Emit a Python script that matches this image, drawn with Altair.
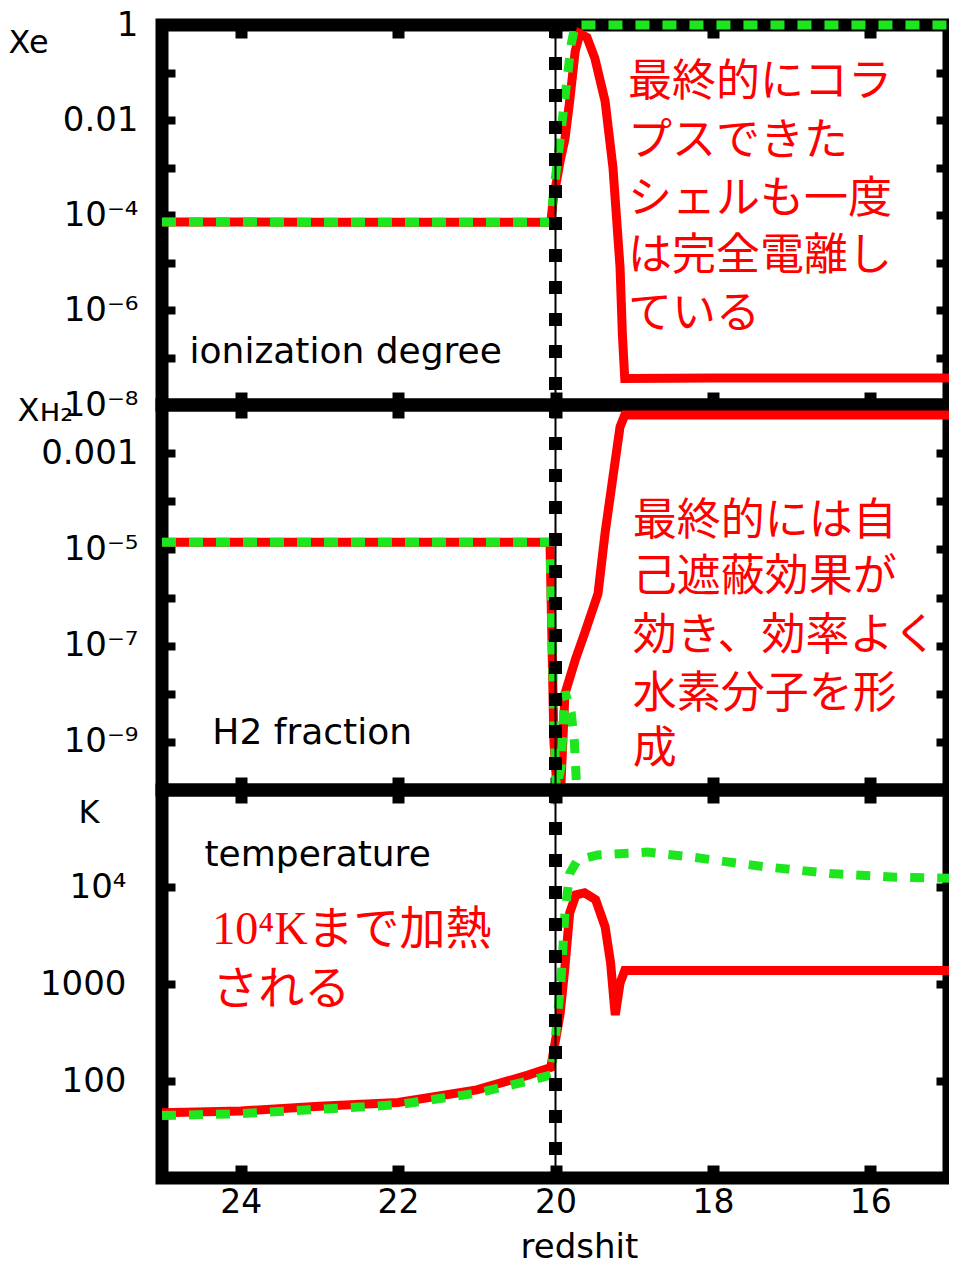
import altair as alt
import pandas as pd

FONT = "DejaVu Sans"
JP_FONT = "Noto Sans CJK JP"
RED = "#ff0000"
GREEN = "#1ee61e"

# ---------------- data (redshift, value) ----------------
# Panel 1: ionization degree Xe
XE_RED_Z = [25, 24, 23, 22, 21, 20.06, 20.03, 19.94, 19.88, 19.82, 19.75, 19.69, 19.6, 19.5,
            19.37, 19.27, 19.18, 19.15, 19.12, 18, 17, 16, 15]
XE_RED_V = [7.1e-5, 7.1e-5, 7.0e-5, 7.0e-5, 7.0e-5, 7.0e-5, 2.0e-4, 1.4e-3, 4.0e-3, 2.5e-2, 0.28, 0.66, 0.55, 0.2,
            2.5e-2, 1.0e-3, 8.0e-6, 3.0e-7, 3.6e-8, 3.7e-8, 3.7e-8, 3.7e-8, 3.7e-8]
XE_GREEN_Z = [25, 24, 23, 22, 21, 20.06, 20.03, 19.95, 19.88, 19.8, 19.75, 18, 17, 16, 15]
XE_GREEN_V = [7.1e-5, 7.1e-5, 7.0e-5, 7.0e-5, 7.0e-5, 7.0e-5, 2.5e-4, 3.0e-3, 3.0e-2, 0.4, 1.0, 1.0, 1.0, 1.0, 1.0]

# Panel 2: H2 fraction
H2_RED_Z = [25, 24, 23, 22, 21, 20.07, 20.02, 19.98, 19.93, 19.88, 19.75, 19.63, 19.46, 19.37,
            19.27, 19.18, 19.12, 18, 17, 16, 15]
H2_RED_V = [1.4e-5, 1.4e-5, 1.4e-5, 1.4e-5, 1.4e-5, 1.4e-5, 1.0e-9, 1.0e-10, 1.4e-10, 1.0e-8, 5.0e-8, 1.8e-7, 1.2e-6, 2.2e-5,
            3.2e-4, 3.5e-3, 6.2e-3, 6.2e-3, 6.2e-3, 6.2e-3, 6.2e-3]
H2_GREEN_Z = [25, 24, 23, 22, 21, 20.07, 20.02, 19.99, 19.93, 19.88, 19.8, 19.76, 19.73]
H2_GREEN_V = [1.4e-5, 1.4e-5, 1.4e-5, 1.4e-5, 1.4e-5, 1.4e-5, 3.0e-9, 1.0e-10, 3.0e-10, 1.1e-8, 4.0e-9, 1.0e-9, 1.0e-10]

# Panel 3: temperature (K)
T_RED_Z = [25, 24, 23, 22, 21, 20.35, 20.06, 19.94, 19.88, 19.82, 19.74, 19.63, 19.49, 19.37,
           19.30, 19.25, 19.24, 19.18, 19.12, 18, 17, 16, 15]
T_RED_V = [47, 49, 55, 60, 81, 115, 138, 500, 1500, 5400, 8300, 8700, 7400, 3900,
           1650, 575, 480, 1020, 1380, 1380, 1380, 1380, 1380]
T_GREEN_Z = [25, 24, 23, 22, 21, 20.35, 20.06, 20.02, 19.93, 19.88, 19.82, 19.72, 19.46, 18.83,
             18.2, 17.35, 16.52, 15.67, 15]
T_GREEN_V = [44, 46, 51, 57, 75, 100, 115, 200, 1100, 5400, 13800, 19000, 21400, 22900,
             20000, 16200, 13800, 12600, 12300]

X_TICKS = [24, 22, 20, 18, 16]
P1_TICKS = [1, 0.1, 0.01, 1e-3, 1e-4, 1e-5, 1e-6, 1e-7, 1e-8]
P1_LABELS = {0: "1", -2: "0.01", -4: "10⁻⁴", -6: "10⁻⁶", -8: "10⁻⁸"}
P2_TICKS = [1e-2, 1e-3, 1e-4, 1e-5, 1e-6, 1e-7, 1e-8, 1e-9, 1e-10]
P2_LABELS = {-3: "0.001", -5: "10⁻⁵", -7: "10⁻⁷", -9: "10⁻⁹"}
P3_TICKS = [1e5, 1e4, 1e3, 100, 10]
P3_LABELS = {4: "10⁴", 3: "1000", 2: "100"}

# text annotations
P1_NOTE = ["最終的にコラ", "プスできた", "シェルも一度", "は完全電離し", "ている"]
P1_NOTE_Z = 19.08
P1_NOTE_V = [6.0e-2, 3.5e-3, 2.1e-4, 1.3e-5, 7.8e-7]
P2_NOTE = ["最終的には自", "己遮蔽効果が", "効き、効率よく", "水素分子を形", "成"]
P2_NOTE_Z = 19.02
P2_NOTE_V = [3.7e-5, 2.5e-6, 1.5e-7, 9.3e-9, 6.8e-10]
P3_NOTE = ["10⁴Kまで加熱", "される"]
P3_NOTE_Z = 24.36
P3_NOTE_V = [3600, 870]

xscale = alt.Scale(domain=[25, 15], nice=False, zero=False)
W = 787


def label_expr(mapping):
    expr = "''"
    for k, v in mapping.items():
        expr = f"round(log(datum.value)/LN10) == {k} ? '{v}' : " + expr
    return expr


def panel(red_z, red_v, green_z, green_v, ydom, yticks, ylabels, ytitle, title_x, title_y,
          height, label_text, label_z, label_v, note, note_z, note_v, note_font, note_size,
          bottom=False, label_pad=24):
    yscale = alt.Scale(type="log", domain=ydom, nice=False)
    red_df = pd.DataFrame({"z": red_z, "v": red_v})
    green_df = pd.DataFrame({"z": green_z, "v": green_v})

    x_bottom = alt.X(
        "z:Q", scale=xscale,
        axis=alt.Axis(values=X_TICKS, orient="bottom", offset=-13, tickSize=13, tickWidth=12,
                      tickColor="black", domain=False, grid=False, labels=bottom,
                      labelFont=FONT, labelFontSize=33, labelColor="black", labelPadding=8,
                      format="d", labelOverlap=False, minExtent=0,
                      title="redshit" if bottom else None, titleFont=FONT, titleFontSize=34,
                      titleFontWeight="normal", titleColor="black", titlePadding=11, titleX=417),
    )
    y_left = alt.Y(
        "v:Q", scale=yscale,
        axis=alt.Axis(values=yticks, orient="left", offset=-13, tickSize=13, tickWidth=8,
                      tickColor="black", domain=False, grid=False, labelExpr=label_expr(ylabels),
                      labelFont=FONT, labelFontSize=34, labelColor="black", labelPadding=label_pad,
                      labelOverlap=False, labelBound=False, minExtent=0,
                      title=ytitle, titleFont=FONT, titleFontSize=32, titleFontWeight="normal",
                      titleColor="black", titleAngle=0, titleAlign="left", titleBaseline="middle",
                      titleX=title_x, titleY=title_y),
    )
    x_top = alt.X("z:Q", scale=xscale,
                  axis=alt.Axis(values=X_TICKS, orient="top", offset=-13, tickSize=13, tickWidth=12,
                                tickColor="black", domain=False, grid=False, labels=False,
                                minExtent=0, title=None))
    y_right = alt.Y("v:Q", scale=yscale,
                    axis=alt.Axis(values=yticks, orient="right", offset=-13, tickSize=13, tickWidth=8,
                                  tickColor="black", domain=False, grid=False, labels=False,
                                  minExtent=0, title=None))
    x_plain = alt.X("z:Q", scale=xscale, axis=None)
    y_plain = alt.Y("v:Q", scale=yscale, axis=None)

    red = alt.Chart(red_df).mark_line(color=RED, strokeWidth=9, strokeCap="butt", clip=False).encode(
        x=x_bottom, y=y_left)
    green = alt.Chart(green_df).mark_line(color=GREEN, strokeWidth=9, strokeDash=[14, 13],
                                          strokeCap="butt", clip=False).encode(x=x_top, y=y_right)

    zline = pd.DataFrame({"z": [20]})
    thin = alt.Chart(zline).mark_rule(color="black", strokeWidth=2).encode(x=x_plain)
    dots = alt.Chart(zline).mark_rule(color="black", strokeWidth=13, strokeDash=[13, 19]).encode(x=x_plain)

    lab = alt.Chart(pd.DataFrame({"z": [label_z], "v": [label_v], "t": [label_text]})).mark_text(
        align="left", baseline="middle", font=FONT, fontSize=36, color="black").encode(
        x=x_plain, y=y_plain, text="t:N")

    note_df = pd.DataFrame({"z": [note_z] * len(note), "v": note_v, "t": note})
    notes = alt.Chart(note_df).mark_text(
        align="left", baseline="middle", font=note_font, fontSize=note_size, color=RED).encode(
        x=x_plain, y=y_plain, text="t:N")

    return alt.layer(red, green, lab, notes, thin, dots).resolve_axis(
        x="independent", y="independent").properties(width=W, height=height)


p1 = panel(XE_RED_Z, XE_RED_V, XE_GREEN_Z, XE_GREEN_V, [1e-8, 1], P1_TICKS, P1_LABELS, "Xe", -167, 17,
           380, "ionization degree", 24.65, 1.3e-7, P1_NOTE, P1_NOTE_Z, P1_NOTE_V, JP_FONT, 44)
p2 = panel(H2_RED_Z, H2_RED_V, H2_GREEN_Z, H2_GREEN_V, [1e-10, 1e-2], P2_TICKS, P2_LABELS, "Xʜ₂", -158, 5,
           385, "H2 fraction", 24.36, 1.5e-9, P2_NOTE, P2_NOTE_Z, P2_NOTE_V, JP_FONT, 44)
p3 = panel(T_RED_Z, T_RED_V, T_GREEN_Z, T_GREEN_V, [10, 1e5], P3_TICKS, P3_LABELS, "K", -97, 22,
           388, "temperature", 24.46, 21500, P3_NOTE, P3_NOTE_Z, P3_NOTE_V,
           "Liberation Serif, Noto Sans CJK JP", 46, bottom=True, label_pad=36)

chart = alt.vconcat(p1, p2, p3, spacing=0, bounds="flush").properties(
    padding={"left": -7, "top": -8, "right": -25, "bottom": -6}
).configure_view(stroke="black", strokeWidth=13)

chart.save("out.html", embed_options={"renderer": "svg", "actions": False})
